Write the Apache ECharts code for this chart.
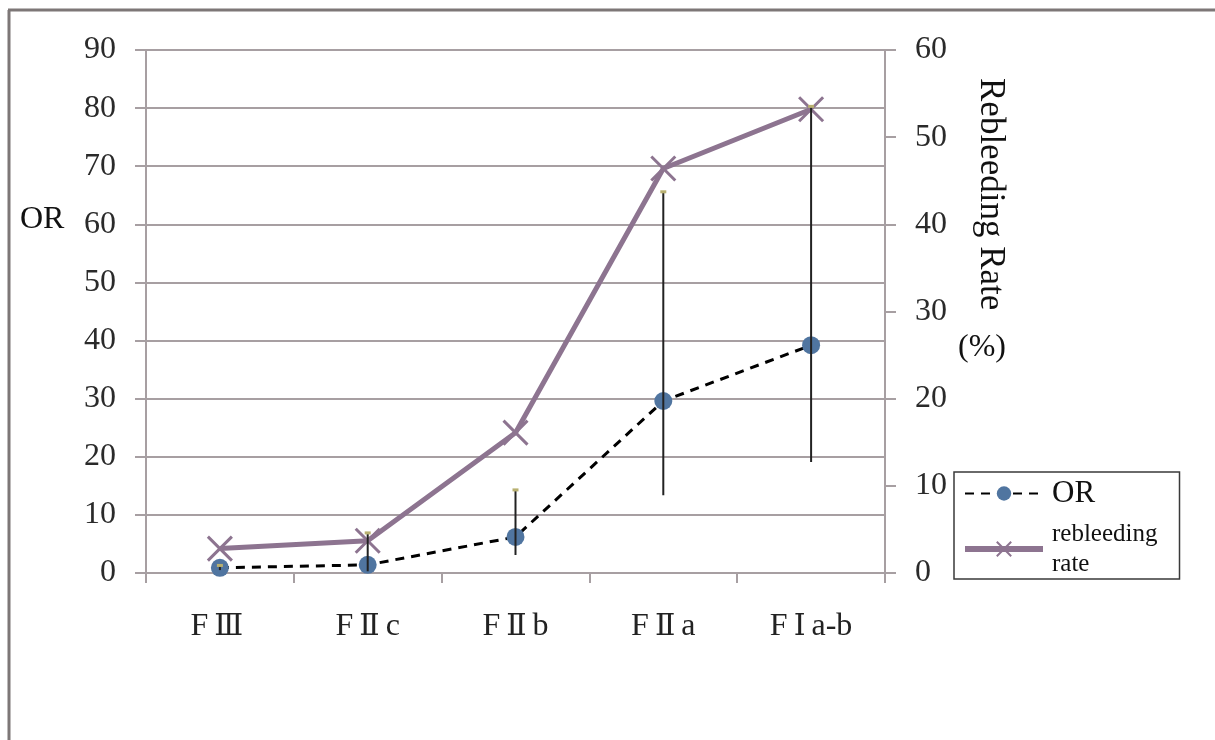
<!DOCTYPE html>
<html>
<head>
<meta charset="utf-8">
<script src="https://cdn.jsdelivr.net/npm/echarts@6/dist/echarts.min.js"></script>
<style>
  html, body { margin: 0; padding: 0; background: #fff; }
  #chart { width: 1215px; height: 740px; }
</style>
</head>
<body>
<div id="chart"></div>
<script>
// data
const categories = ['FⅢ', 'FⅡc', 'FⅡb', 'FⅡa', 'FⅠa-b'];
const orValues = [0.9, 1.4, 6.2, 29.6, 39.2];
const orLow = [0.5, 0.3, 3.1, 13.4, 19.1];
const orHigh = [1.3, 6.9, 14.3, 65.6, 80.3];
const rebleedRate = [2.8, 3.7, 16.1, 46.4, 53.2];
const leftTicks = { min: 0, max: 90, interval: 10 };
const rightTicks = { min: 0, max: 60, interval: 10 };

const serif = 'Liberation Serif';
const gridColor = '#a79fa2';
const purple = '#8d7490';
const dotBlue = '#5075a0';

const errData = categories.map((c, i) => [i, orLow[i], orHigh[i]]);

const chart = echarts.init(document.getElementById('chart'));
chart.setOption({
  animation: false,
  backgroundColor: '#fff',
  grid: { left: 146, right: 330, top: 50, bottom: 167 },
  legend: {
    orient: 'vertical',
    left: 954,
    top: 472,
    padding: [6, 22, 0, 8],
    itemGap: 10,
    itemWidth: 78,
    itemHeight: 18,
    borderColor: '#3a3a3a',
    borderWidth: 1.5,
    backgroundColor: '#fff',
    data: [
      { name: 'OR', textStyle: { fontSize: 31 } },
      { name: 'rebleeding\nrate', textStyle: { fontSize: 25, lineHeight: 30 }, lineStyle: { width: 6 } }
    ],
    textStyle: { fontFamily: serif, color: '#111', padding: [0, 0, 0, 4] }
  },
  xAxis: {
    type: 'category',
    data: categories,
    axisLine: { lineStyle: { color: gridColor, width: 2 } },
    axisTick: { show: true, length: 10, lineStyle: { color: gridColor, width: 2 } },
    axisLabel: {
      interval: 0,
      margin: 38, fontFamily: serif, fontSize: 32, color: '#222',
      formatter: v => v.replace(/([ⅠⅡⅢ])/g, '{n|$1}'),
      rich: { n: { fontFamily: 'DejaVu Serif', fontSize: 30, color: '#222', padding: [0, 6, 0, 6] } }
    }
  },
  yAxis: [
    {
      type: 'value',
      min: leftTicks.min, max: leftTicks.max, interval: leftTicks.interval,
      axisLine: { show: true, lineStyle: { color: gridColor, width: 2 } },
      axisTick: { show: true, length: 11, lineStyle: { color: gridColor, width: 2 } },
      splitLine: { show: true, lineStyle: { color: gridColor, width: 2 } },
      axisLabel: { margin: 30, fontFamily: serif, fontSize: 32, color: '#2a2a2a' }
    },
    {
      type: 'value',
      position: 'right',
      min: rightTicks.min, max: rightTicks.max, interval: rightTicks.interval,
      axisLine: { show: true, lineStyle: { color: gridColor, width: 2 } },
      axisTick: { show: true, length: 11, lineStyle: { color: gridColor, width: 2 } },
      splitLine: { show: false },
      axisLabel: { margin: 30, fontFamily: serif, fontSize: 32, color: '#2a2a2a' }
    }
  ],
  series: [
    {
      name: 'OR',
      type: 'line',
      yAxisIndex: 0,
      data: orValues,
      symbol: 'circle',
      symbolSize: 18,
      itemStyle: { color: dotBlue },
      lineStyle: { color: '#000', width: 3, type: [9, 7] },
      z: 3
    },
    {
      name: 'rebleeding\nrate',
      type: 'line',
      yAxisIndex: 1,
      data: rebleedRate,
      symbol: 'path://M0,0L10,10M10,0L0,10',
      symbolSize: 24,
      itemStyle: { color: 'none', borderColor: purple, borderWidth: 3 },
      lineStyle: { color: purple, width: 5 },
      z: 4
    },
    {
      name: 'OR error',
      type: 'custom',
      yAxisIndex: 0,
      data: errData,
      z: 5,
      renderItem: function (params, api) {
        const p1 = api.coord([api.value(0), api.value(1)]);
        const p2 = api.coord([api.value(0), api.value(2)]);
        return {
          type: 'group',
          children: [
            {
              type: 'line',
              shape: { x1: p1[0], y1: p1[1], x2: p2[0], y2: p2[1] },
              style: { stroke: '#222', lineWidth: 2 }
            },
            {
              type: 'line',
              shape: { x1: p2[0] - 3, y1: p2[1], x2: p2[0] + 3, y2: p2[1] },
              style: { stroke: '#b8b070', lineWidth: 3 }
            }
          ]
        };
      }
    }
  ],
  graphic: [
    { type: 'line', shape: { x1: 8, y1: 10, x2: 1215, y2: 10 }, style: { stroke: '#7d7777', lineWidth: 3 } },
    { type: 'line', shape: { x1: 9, y1: 10, x2: 9, y2: 740 }, style: { stroke: '#7d7777', lineWidth: 3 } },
    { type: 'text', left: 20, top: 204, style: { text: 'OR', font: '32px "Liberation Serif"', fill: '#111' } },
    {
      type: 'text', x: 1008, y: 78, rotation: -Math.PI / 2,
      style: { text: 'Rebleeding Rate', font: '35px "Liberation Serif"', fill: '#111' }
    },
    { type: 'text', left: 958, top: 332, style: { text: '(%)', font: '32px "Liberation Serif"', fill: '#111' } }
  ]
});
</script>
</body>
</html>
